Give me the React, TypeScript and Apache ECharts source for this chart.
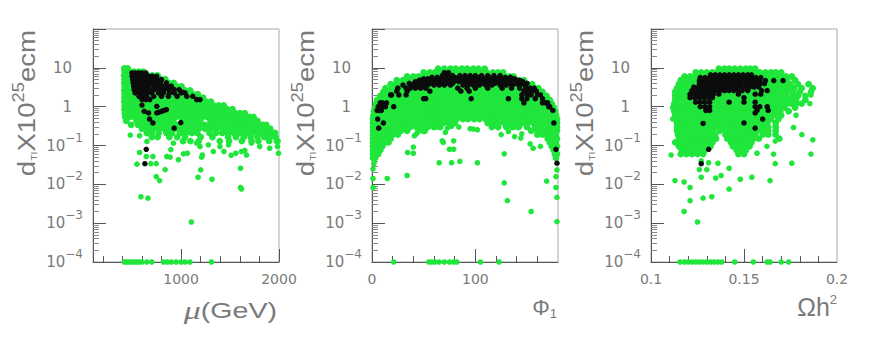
import React, { useEffect, useRef } from "react";
import * as echarts from "echarts";

type Row = [number, number[]];
type Pt = [number, number];

const FLOOR = 0.0001; // points pinned on the axis floor

const yTickValues = [0.0001, 0.001, 0.01, 0.1, 1, 10, 100];
const yLabelValues = [0.0001, 0.001, 0.01, 0.1, 1, 10];
const yLabelTexts = ["{b|10}{s|\u22124}", "{b|10}{s|\u22123}", "{b|10}{s|\u22122}", "{b|10}{s|\u22121}", "{p|1}", "{p|10}"];
const yMinorTicks = [
  0.0002, 0.0003, 0.0004, 0.0005, 0.0006, 0.0007, 0.0008, 0.0009,
  0.002, 0.003, 0.004, 0.005, 0.006, 0.007, 0.008, 0.009,
  0.02, 0.03, 0.04, 0.05, 0.06, 0.07, 0.08, 0.09,
  0.2, 0.3, 0.4, 0.5, 0.6, 0.7, 0.8, 0.9,
  2, 3, 4, 5, 6, 7, 8, 9,
  20, 30, 40, 50, 60, 70, 80, 90,
];

// ---- left panel: mu (GeV)
const muTicksMinor = [200, 400, 600, 800, 1200, 1400, 1600, 1800];
const muTicksMajor = [1000, 2000];
const muGreenRows: Row[] = [
  [9.6, [420, 455]],
  [8, [425, 470, 520, 568, 615]],
  [6.4, [418, 452, 505, 552, 600, 655, 705, 760]],
  [5.1, [422, 478, 530, 578, 632, 684, 735, 790, 838]],
  [4.1, [420, 450, 505, 556, 610, 662, 712, 768, 820, 872, 925]],
  [3.3, [424, 478, 530, 585, 640, 690, 745, 798, 850, 905, 958, 1005]],
  [2.6, [420, 455, 505, 560, 612, 668, 720, 775, 828, 880, 935, 988, 1040, 1092]],
  [2.1, [424, 478, 530, 585, 640, 690, 745, 798, 850, 905, 958, 1012, 1065, 1118, 1170]],
  [1.7, [422, 478, 532, 585, 640, 692, 748, 800, 852, 908, 960, 1012, 1068, 1120, 1172, 1225]],
  [1.35, [420, 452, 505, 560, 612, 668, 720, 775, 828, 880, 935, 988, 1040, 1095, 1148, 1200, 1255, 1305]],
  [1.08, [424, 478, 530, 585, 640, 690, 745, 798, 850, 905, 958, 1012, 1065, 1118, 1172, 1225, 1278, 1330, 1385, 1435]],
  [0.86, [422, 455, 505, 560, 612, 668, 720, 775, 828, 880, 935, 988, 1042, 1095, 1150, 1202, 1255, 1310, 1362, 1418, 1470, 1525]],
  [0.68, [426, 478, 532, 585, 640, 692, 748, 800, 852, 908, 960, 1015, 1068, 1122, 1175, 1228, 1282, 1335, 1390, 1442, 1495, 1550, 1600, 1650]],
  [0.54, [430, 470, 520, 572, 625, 680, 732, 788, 840, 892, 948, 1000, 1055, 1108, 1160, 1215, 1268, 1322, 1375, 1428, 1482, 1535, 1588, 1640, 1695, 1740]],
  [0.43, [440, 545, 600, 655, 705, 760, 815, 868, 920, 1030, 1085, 1140, 1195, 1300, 1350, 1405, 1460, 1510, 1565, 1620, 1672, 1725, 1780]],
  [0.34, [490, 560, 625, 680, 735, 790, 850, 905, 965, 1015, 1075, 1130, 1185, 1240, 1290, 1345, 1400, 1455, 1510, 1565, 1615, 1670, 1725, 1775, 1830, 1870]],
  [0.27, [600, 660, 715, 775, 830, 890, 950, 1010, 1060, 1120, 1180, 1245, 1300, 1360, 1420, 1475, 1530, 1590, 1640, 1700, 1750, 1810, 1860, 1910]],
  [0.21, [650, 700, 770, 850, 905, 990, 1050, 1110, 1165, 1290, 1355, 1420, 1480, 1540, 1600, 1660, 1720, 1775, 1825, 1885, 1935, 1960]],
  [0.165, [700, 760, 880, 960, 1040, 1200, 1320, 1480, 1560, 1640, 1710, 1780, 1850, 1910, 1965]],
  [0.13, [1020, 1095, 1180, 1395, 1490, 1620, 1720, 1790, 1900, 1985]],
];
const muGreenSparse: Pt[] = [
  [481, 0.185], [576, 0.178], [651, 0.127], [576, 0.066], [644, 0.052], [712, 0.052], [549, 0.033], [691, 0.034], [746, 0.034],
  [837, 0.024], [746, 0.0158], [780, 0.0125], [590, 0.0048], [661, 0.0044], [1105, 0.00107], [1173, 0.0152], [1200, 0.0235],
  [1315, 0.0135], [1607, 0.026], [1607, 0.0083], [1617, 0.0076], [973, 0.043], [854, 0.052], [888, 0.05], [1024, 0.061], [1064, 0.063],
  [1217, 0.057], [1210, 0.05], [1329, 0.07], [1437, 0.07], [1397, 0.094], [1485, 0.104], [1512, 0.056], [1559, 0.063], [1617, 0.07],
  [1668, 0.057], [1651, 0.075], [1278, 0.104], [1159, 0.115], [1193, 0.094], [922, 0.115], [895, 0.078], [1719, 0.115], [1803, 0.094],
  [1905, 0.085], [1973, 0.127], [1985, 0.094], [1995, 0.063],
  [420, FLOOR], [445, FLOOR], [470, FLOOR], [495, FLOOR], [520, FLOOR], [545, FLOOR], [570, FLOOR], [600, FLOOR], [650, FLOOR],
  [700, FLOOR], [820, FLOOR], [860, FLOOR], [900, FLOOR], [950, FLOOR], [1000, FLOOR], [1040, FLOOR], [1090, FLOOR], [1310, FLOOR],
];
const muBlackRows: Row[] = [
  [7.4, [498, 530, 565, 600, 640]],
  [6.1, [500, 535, 570, 600, 635, 670, 705, 750]],
  [5, [505, 540, 575, 610, 640, 680, 720, 760, 800]],
  [4.1, [510, 550, 590, 620, 660, 700, 740, 790, 850]],
  [3.4, [515, 555, 590, 630, 670, 720, 760, 810, 860, 900]],
  [2.75, [520, 560, 600, 640, 680, 730, 780, 830, 880, 930, 980]],
  [2.26, [530, 570, 610, 650, 700, 770, 820, 880, 930, 1000, 1040]],
  [1.85, [570, 610, 650, 720, 800, 870, 960, 1058, 1119]],
  [1.52, [600, 640, 680, 1159, 1193]],
];
const muBlackSparse: Pt[] = [
  [752, 0.69], [775, 0.72], [800, 0.76], [825, 0.8], [850, 0.84], [752, 1.02], [600, 1.1], [623, 0.76], [668, 0.69], [678, 0.48], [712, 0.38],
  [997, 0.39], [929, 0.28], [644, 0.08], [630, 0.034], [1017, 2.35],
];

// ---- middle panel: phi_1
const phiTicksMinor = [20, 40, 60, 80, 120, 140, 160];
const phiTicksMajor = [100];
const phiLabels = [0, 100];
const phiGreenRows: Row[] = [
  [9.5, [64, 70, 76, 81, 87, 92, 98, 103, 109]],
  [7.6, [50, 56, 61, 67, 72, 78, 84, 89, 95, 100, 106, 111, 117, 122, 127]],
  [6, [34, 40, 45, 51, 56, 62, 67, 73, 78, 84, 90, 95, 101, 106, 112, 117, 123, 128, 133, 137]],
  [4.8, [24, 30, 35, 41, 46, 52, 58, 63, 69, 74, 80, 85, 91, 96, 102, 108, 113, 119, 124, 130, 135, 141, 147]],
  [3.8, [18, 23, 29, 34, 40, 45, 51, 56, 62, 68, 73, 79, 84, 90, 95, 101, 106, 112, 117, 123, 129, 134, 140, 145, 150, 155]],
  [3, [13, 19, 25, 30, 36, 41, 47, 52, 58, 63, 69, 74, 80, 86, 91, 97, 102, 108, 113, 119, 124, 130, 136, 141, 147, 152, 157, 161]],
  [2.4, [11, 16, 22, 27, 33, 38, 44, 50, 55, 61, 66, 72, 77, 83, 88, 94, 100, 105, 111, 116, 122, 127, 133, 138, 144, 149, 155, 160, 165]],
  [1.9, [8, 13, 19, 25, 30, 36, 41, 47, 52, 58, 63, 69, 75, 80, 86, 91, 97, 102, 108, 113, 119, 125, 130, 136, 141, 147, 152, 158, 163, 169]],
  [1.5, [5, 11, 16, 22, 27, 33, 39, 44, 50, 55, 61, 66, 72, 77, 83, 89, 94, 100, 105, 111, 116, 122, 127, 133, 139, 144, 150, 155, 161, 166, 172]],
  [1.2, [4, 8, 14, 19, 25, 30, 36, 41, 47, 53, 58, 64, 69, 75, 80, 86, 91, 97, 103, 108, 114, 119, 125, 130, 136, 141, 147, 153, 158, 164, 169, 174]],
  [0.95, [3, 6, 11, 17, 22, 28, 33, 39, 45, 50, 56, 61, 67, 72, 78, 83, 89, 95, 100, 106, 111, 117, 122, 128, 133, 139, 145, 150, 156, 161, 167, 172, 176]],
  [0.76, [2, 5, 9, 14, 20, 25, 31, 37, 42, 48, 53, 59, 64, 70, 75, 81, 87, 92, 98, 103, 109, 114, 120, 125, 131, 137, 142, 148, 153, 159, 164, 170, 174, 177]],
  [0.6, [1.5, 4, 7, 12, 18, 23, 29, 34, 40, 45, 51, 56, 62, 67, 73, 79, 84, 90, 95, 101, 106, 112, 117, 123, 129, 134, 140, 145, 151, 156, 162, 167, 173, 178]],
  [0.48, [1, 3, 6, 10, 15, 21, 27, 32, 38, 43, 49, 54, 60, 66, 71, 77, 82, 88, 93, 99, 104, 110, 115, 121, 127, 132, 138, 143, 149, 154, 160, 165, 171, 176, 179]],
  [0.38, [1, 3, 5, 9, 13, 19, 24, 30, 35, 41, 47, 52, 58, 63, 69, 74, 80, 112, 117, 122, 128, 134, 139, 145, 150, 156, 161, 167, 172, 177, 179]],
  [0.3, [1, 3, 6, 10, 14, 20, 26, 31, 37, 43, 48, 54, 60, 66, 116, 122, 130, 136, 142, 150, 158, 164, 170, 175, 179]],
  [0.24, [1, 4, 7, 12, 17, 22, 28, 34, 45, 51, 154, 160, 166, 171, 176, 179]],
  [0.19, [1, 3, 6, 10, 15, 20, 25, 160, 165, 170, 174, 178]],
  [0.15, [1, 3, 6, 10, 14, 18, 170, 174, 177, 179]],
  [0.12, [1, 3, 6, 9, 13, 16, 172, 175, 178]],
  [0.095, [1, 4, 7, 10, 174, 177, 179]],
  [0.076, [1, 3, 6, 8, 176, 178]],
  [0.06, [1, 4, 6, 177, 179]],
  [0.048, [1, 3, 178]],
];
const phiGreenSparse: Pt[] = [
  [43, 0.2], [41, 0.178], [50, 0.23], [60, 0.3], [63, 0.3], [71, 0.217], [73, 0.28], [77, 0.31], [84, 0.3], [95, 0.27], [98, 0.265], [102, 0.255],
  [122, 0.31], [125, 0.19], [132, 0.23], [138, 0.17], [139, 0.3], [145, 0.2], [144, 0.155], [68, 0.132], [69, 0.12], [79, 0.132], [75, 0.08], [79, 0.08],
  [40, 0.091], [34.5, 0.066], [40, 0.063], [128, 0.061], [153, 0.11], [156, 0.085], [163, 0.095], [65, 0.036], [77, 0.036], [85, 0.039], [102, 0.036],
  [34, 0.0169], [14.8, 0.0141], [128, 0.0109], [169, 0.0121], [131, 0.0038], [154, 0.002], [179, 0.0011], [179, 0.0046], [178, 0.0083], [178, 0.0158],
  [179, 0.0235], [1, 0.0141], [1, 0.0083], [1, 0.025], [2, 0.035],
  [21, FLOOR], [55, FLOOR], [58, FLOOR], [61, FLOOR], [65, FLOOR], [70, FLOOR], [75, FLOOR], [79, FLOOR], [82, FLOOR], [105, FLOOR], [123, FLOOR],
];
const phiBlackRows: Row[] = [
  [7.5, [70, 74]],
  [6.3, [68, 72, 78, 85, 90, 95, 100, 106, 112, 118, 124]],
  [5.7, [58, 63, 69, 75, 80, 85, 91, 96, 102, 107, 113, 118, 123, 129, 134]],
  [5.2, [50, 54, 58, 64, 70, 75, 81, 86, 92, 97, 103, 108, 114, 120, 126, 132, 138]],
  [4.8, [46, 50, 55, 61, 66, 72, 78, 83, 88, 94, 99, 104, 110, 116, 121, 127, 133, 139, 143]],
  [4.4, [42, 47, 52, 57, 62, 68, 73, 79, 84, 89, 95, 100, 105, 111, 117, 122, 128, 134, 140, 146]],
  [4, [36, 41, 46, 51, 56, 61, 67, 72, 78, 90, 96, 102, 108, 113, 119, 126, 133, 139, 145, 150]],
  [3.6, [30, 40, 44, 49, 54, 60, 65, 70, 76, 88, 93, 98, 104, 110, 116, 124, 130, 136, 142, 148]],
  [3, [25, 33, 37, 42, 47, 52, 83, 92, 100, 112, 126, 135, 143, 149, 153, 157]],
  [2.5, [24, 34, 56, 86, 94, 147, 151, 155, 159]],
  [2, [18, 19, 26, 33, 145, 150, 154, 160, 163]],
  [1.6, [52, 50, 96, 132, 145, 150, 158, 165]],
  [1.25, [10, 8, 14, 147, 165, 168, 170]],
  [1, [6, 10, 13, 21, 171, 172]],
  [0.8, [5, 7, 9, 175]],
];
const phiBlackSparse: Pt[] = [[5.5, 0.48], [6.5, 0.28], [11, 0.38], [176, 0.38], [178, 0.08], [179, 0.035]];

// ---- right panel: Omega h^2
const omegaTicksMinor = [0.11, 0.12, 0.13, 0.14, 0.16, 0.17, 0.18, 0.19];
const omegaTicksMajor = [0.15];
const omegaLabels = [0.1, 0.15, 0.2];
const omegaGreenRows: Row[] = [
  [9.5, [.1365, .1395, .142, .145, .148, .151, .1535, .156]],
  [7.6, [.124, .127, .13, .133, .1355, .1385, .1415, .144, .147, .15, .153, .156, .1585, .1615, .1645, .167, .170]],
  [6, [.118, .121, .124, .1265, .1295, .1325, .135, .138, .141, .144, .1465, .1495, .1525, .155, .158, .161, .164, .1665, .1695, .1725, .1757]],
  [4.8, [.116, .119, .1215, .1245, .1275, .13, .133, .136, .139, .1415, .1445, .1475, .15, .153, .156, .159, .1615, .1645, .1675, .17, .173, .1775]],
  [3.8, [.115, .118, .1205, .1235, .1265, .1295, .132, .135, .138, .1405, .1435, .1465, .149, .152, .155, .158, .1605, .1635, .1665, .169, .172, .175, .179, .1847]],
  [3, [.114, .1165, .1195, .1225, .125, .128, .131, .134, .1365, .1395, .1425, .145, .148, .151, .154, .1565, .1595, .1625, .165, .168, .171, .174, .177, .181, .1869]],
  [2.4, [.113, .116, .119, .1215, .1245, .1275, .13, .133, .136, .139, .1415, .1445, .1475, .15, .153, .156, .159, .1615, .1645, .1675, .17, .173, .1765, .18, .186]],
  [1.9, [.113, .1155, .1185, .1215, .124, .127, .13, .1325, .1355, .1385, .141, .144, .147, .15, .1525, .1555, .1585, .161, .164, .167, .17, .1725, .176, .179, .183]],
  [1.5, [.113, .1155, .118, .121, .124, .1265, .1295, .1325, .135, .138, .141, .144, .1465, .1495, .1525, .155, .158, .161, .164, .1665, .1695, .1725, .175, .178, .183]],
  [1.2, [.1125, .115, .118, .121, .1235, .1265, .1295, .132, .135, .138, .141, .1435, .1465, .1495, .152, .155, .158, .161, .1635, .1665, .1695, .172, .175, .178, .181]],
  [0.95, [.112, .115, .1175, .1205, .1235, .126, .129, .132, .135, .1375, .1405, .1435, .146, .149, .152, .155, .1575, .1605, .1635, .166, .169, .172, .1775]],
  [0.76, [.1125, .115, .118, .121, .124, .1265, .1295, .1325, .135, .138, .141, .144, .1465, .1495, .1525, .155, .158, .161, .164, .1665, .1695, .174]],
  [0.6, [.113, .116, .119, .1215, .1245, .1275, .13, .133, .136, .139, .1415, .1445, .1475, .15, .153, .156, .159, .1615, .1645, .1675, .170]],
  [0.48, [.1135, .116, .119, .122, .1245, .1275, .1305, .133, .136, .139, .142, .1445, .1475, .1505, .153, .156, .159, .162, .1645, .1685]],
  [0.38, [.114, .117, .12, .1225, .1255, .1285, .131, .134, .137, .14, .1425, .1455, .1485, .151, .154, .157, .16, .1625, .167]],
  [0.3, [.114, .1165, .1195, .1225, .125, .128, .131, .134, .137, .14, .143, .146, .1485, .1515, .1545, .157, .16, .163, .167]],
  [0.24, [.114, .117, .12, .1225, .1255, .1285, .131, .1335, .137, .14, .1425, .1455, .1485, .1515, .154, .157, .16, .163, .167]],
  [0.19, [.1145, .1175, .12, .123, .126, .129, .131, .1345, .14, .142, .145, .1475, .1505, .1535, .156, .16, .163, .167]],
  [0.15, [.115, .118, .121, .124, .1265, .129, .132, .135, .141, .1435, .146, .149, .152, .155, .158, .169]],
  [0.12, [.113, .116, .119, .1215, .1245, .1275, .13, .133, .143, .146, .1485, .1515, .154]],
  [0.095, [.115, .118, .121, .1235, .1265, .129, .132, .144, .147, .15, .153]],
  [0.076, [.1165, .1195, .1225, .126, .129, .146, .149, .151]],
  [0.06, [.116, .119, .122, .125, .128, .147, .15]],
];
const omegaGreenSparse: Pt[] = [
  [.1108, .057], [.1129, .0125], [.1178, .0115], [.121, .0083], [.121, .0038], [.1178, .002], [.125, .00107], [.128, .0044], [.1327, .0048], [.142, .0075],
  [.1348, .0145], [.1377, .0169], [.148, .0135], [.1542, .0152], [.164, .0125], [.127, .0152], [.13, .024], [.126, .024], [.127, .04], [.131, .036], [.136, .035],
  [.142, .026], [.1757, .035], [.1668, .034], [.1659, .06], [.157, .063], [.1623, .095], [.1668, .13], [.186, .06], [.187, .14], [.1811, .19], [.1766, .29],
  [.178, .6], [.1854, 1.2], [.186, 2], [.1117, .48],
  [.1156, FLOOR], [.118, FLOOR], [.12, FLOOR], [.122, FLOOR], [.124, FLOOR], [.126, FLOOR], [.128, FLOOR], [.13, FLOOR], [.132, FLOOR], [.134, FLOOR], [.136, FLOOR], [.138, FLOOR],
  [.145, FLOOR], [.155, FLOOR], [.1625, FLOOR], [.164, FLOOR], [.17, FLOOR], [.174, FLOOR],
];
const omegaBlackRows: Row[] = [
  [6.6, [.132, .1345, .137, .1395, .142, .1445, .147, .1495, .152, .154]],
  [5.6, [.1265, .129, .1315, .134, .1365, .139, .1415, .144, .1465, .149, .1515, .154, .1565, .159]],
  [4.7, [.126, .1285, .131, .1335, .136, .1385, .141, .1435, .146, .1485, .151, .1535, .156, .1585, .1615, .166, .171]],
  [3.9, [.126, .1285, .131, .1335, .136, .1385, .141, .1435, .146, .1485, .151, .1535, .156, .1585, .161]],
  [3.2, [.123, .1255, .128, .1305, .133, .1355, .138, .1405, .143, .1455, .148, .1505, .153, .1555, .158]],
  [2.6, [.122, .1245, .127, .1295, .132, .1345, .137, .1395, .142, .1445, .147, .149, .152, .1595, .1625]],
  [2.1, [.121, .1235, .126, .1285, .131, .1335, .1365, .147, .156, .159]],
  [1.7, [.121, .1235, .126, .1285, .131, .133, .15]],
  [1.3, [.124, .1265, .129, .1315, .142, .15, .156]],
  [1, [.1265, .129, .1315, .156, .1585, .1625]],
  [0.8, [.1295, .1315, .157, .163]],
];
const omegaBlackSparse: Pt[] = [[.128, .37], [.15, .38], [.156, .28], [.16, .48], [.131, .08], [.127, .034], [.156, .69]];

const GREEN = "#20e63c";
const BLACK = "#0c0c0c";
const GREY = "#7a7a7a";
const FRAME_DARK = "#555555";
const FRAME_LIGHT = "#aaaaaa";

const flatten = (rows: Row[], extra: Pt[]): Pt[] => {
  const out: Pt[] = [];
  rows.forEach(([y, xs]) => xs.forEach((x) => out.push([x, y])));
  return out.concat(extra);
};

const panels = [
  { left: 93, min: 100, max: 2000, minor: muTicksMinor, major: muTicksMajor, labels: muTicksMajor, dense: flatten(muGreenRows, []), sparse: muGreenSparse, black: flatten(muBlackRows, muBlackSparse), yx: 27 },
  { left: 372, min: 0, max: 180, minor: phiTicksMinor, major: phiTicksMajor, labels: phiLabels, dense: flatten(phiGreenRows, []), sparse: phiGreenSparse, black: flatten(phiBlackRows, phiBlackSparse), yx: 306 },
  { left: 651, min: 0.1, max: 0.2, minor: omegaTicksMinor, major: omegaTicksMajor, labels: omegaLabels, dense: flatten(omegaGreenRows, []), sparse: omegaGreenSparse, black: flatten(omegaBlackRows, omegaBlackSparse), yx: 585 },
];

const tickFont = { fontFamily: "DejaVu Sans", fontSize: 14, color: GREY };

function buildOption() {
  const grid: any[] = [];
  const xAxis: any[] = [];
  const yAxis: any[] = [];
  const series: any[] = [];
  const graphic: any[] = [];
  panels.forEach((p, i) => {
    grid.push({ left: p.left, top: 29, width: 186, height: 233, show: true, borderColor: FRAME_LIGHT, borderWidth: 1, backgroundColor: "#fff" });
    xAxis.push({
      type: "value", gridIndex: i, position: "bottom", min: p.min, max: p.max, splitLine: { show: false },
      axisLine: { show: true, onZero: false, lineStyle: { color: FRAME_DARK, width: 1 } },
      axisTick: { show: true, inside: true, length: 6, customValues: p.minor, lineStyle: { color: FRAME_DARK } },
      axisLabel: {
        show: true, margin: 10, customValues: p.labels, hideOverlap: false, showMinLabel: true, showMaxLabel: true, ...tickFont,
        formatter: (v: number) => String(v),
      },
    });
    xAxis.push({
      type: "value", gridIndex: i, position: "bottom", min: p.min, max: p.max, splitLine: { show: false },
      axisLine: { show: false, onZero: false },
      axisTick: { show: true, inside: true, length: 13, customValues: p.major, lineStyle: { color: FRAME_DARK } },
      axisLabel: { show: false },
    });
    yAxis.push({
      type: "log", gridIndex: i, position: "left", min: 0.0001, max: 100, splitLine: { show: false }, minorTick: { show: false },
      axisLine: { show: true, onZero: false, lineStyle: { color: FRAME_DARK, width: 1 } },
      axisTick: { show: true, inside: true, length: 13, customValues: yTickValues, lineStyle: { color: FRAME_DARK } },
      axisLabel: {
        show: true, margin: 10, customValues: yLabelValues, hideOverlap: false, ...tickFont,
        formatter: (v: number) => yLabelTexts[Math.round(Math.log10(v)) + 4],
        rich: {
          b: { fontFamily: "DejaVu Sans", fontSize: 15, color: GREY, lineHeight: 30, height: 30 },
          p: { fontFamily: "DejaVu Sans", fontSize: 15, color: GREY, padding: [0, 11, 0, 0] },
          s: { fontFamily: "DejaVu Sans", fontSize: 12, color: GREY, verticalAlign: "top", lineHeight: 14, height: 14 },
        },
      },
    });
    yAxis.push({
      type: "log", gridIndex: i, position: "left", min: 0.0001, max: 100, splitLine: { show: false }, minorTick: { show: false },
      axisLine: { show: false, onZero: false },
      axisTick: { show: true, inside: true, length: 6, customValues: yMinorTicks, lineStyle: { color: "#888888" } },
      axisLabel: { show: false },
    });
    series.push({
      type: "scatter", xAxisIndex: 2 * i, yAxisIndex: 2 * i, data: p.dense, symbolSize: 6.8, z: 2, clip: true,
      itemStyle: { color: GREEN, opacity: 1 }, silent: true,
    });
    series.push({
      type: "scatter", xAxisIndex: 2 * i, yAxisIndex: 2 * i, data: p.sparse, symbolSize: 5.6, z: 2, clip: true,
      itemStyle: { color: GREEN, opacity: 1 }, silent: true,
    });
    series.push({
      type: "scatter", xAxisIndex: 2 * i, yAxisIndex: 2 * i, data: p.black, symbolSize: 5.5, z: 3, clip: true,
      itemStyle: { color: BLACK, opacity: 1 }, silent: true,
    });
    graphic.push({
      type: "text", x: p.yx, y: 103, rotation: Math.PI / 2, scaleX: 1.15, z: 10,
      style: {
        text: "{m|d}{i|TI}{m|X10}{u|25}{m|ecm}", fill: GREY, align: "center", verticalAlign: "middle",
        rich: {
          m: { fontFamily: "Liberation Sans", fontSize: 24, fill: GREY, lineHeight: 36, height: 36 },
          i: { fontFamily: "Liberation Sans", fontSize: 9, fill: GREY, verticalAlign: "bottom", lineHeight: 22, height: 22 },
          u: { fontFamily: "Liberation Sans", fontSize: 16, fill: GREY, verticalAlign: "top", lineHeight: 18, height: 18 },
        },
      },
    });
  });
  graphic.push({
    type: "text", x: 277, y: 310, scaleX: 1.3, z: 10,
    style: {
      text: "{g|\u03bc}{m|(GeV)}", align: "right", verticalAlign: "middle", fill: GREY,
      rich: {
        g: { fontFamily: "Liberation Serif", fontStyle: "italic", fontSize: 26, fill: GREY },
        m: { fontFamily: "Liberation Sans", fontSize: 22, fill: GREY },
      },
    },
  });
  graphic.push({
    type: "text", x: 557, y: 307, z: 10,
    style: {
      text: "{m|\u03a6}{i|1}", align: "right", verticalAlign: "middle", fill: GREY,
      rich: {
        m: { fontFamily: "Liberation Sans", fontSize: 22, fill: GREY, lineHeight: 26, height: 26 },
        i: { fontFamily: "Liberation Sans", fontSize: 13, fill: GREY, verticalAlign: "bottom", lineHeight: 13, height: 13 },
      },
    },
  });
  graphic.push({
    type: "text", x: 837, y: 307, z: 10,
    style: {
      text: "{m|\u03a9h}{u|2}", align: "right", verticalAlign: "middle", fill: GREY,
      rich: {
        m: { fontFamily: "Liberation Sans", fontSize: 25, fill: GREY, lineHeight: 28, height: 28 },
        u: { fontFamily: "Liberation Sans", fontSize: 13, fill: GREY, verticalAlign: "top", lineHeight: 12, height: 12 },
      },
    },
  });
  return { animation: false, backgroundColor: "#ffffff", grid, xAxis, yAxis, series, graphic };
}

export default function App() {
  const ref = useRef<HTMLDivElement>(null);
  useEffect(() => {
    document.body.style.margin = "0";
    const chart = echarts.init(ref.current!, undefined, { renderer: "svg" });
    chart.setOption(buildOption() as any);
    return () => chart.dispose();
  }, []);
  return <div ref={ref} style={{ width: 872, height: 353, background: "#fff" }} />;
}
